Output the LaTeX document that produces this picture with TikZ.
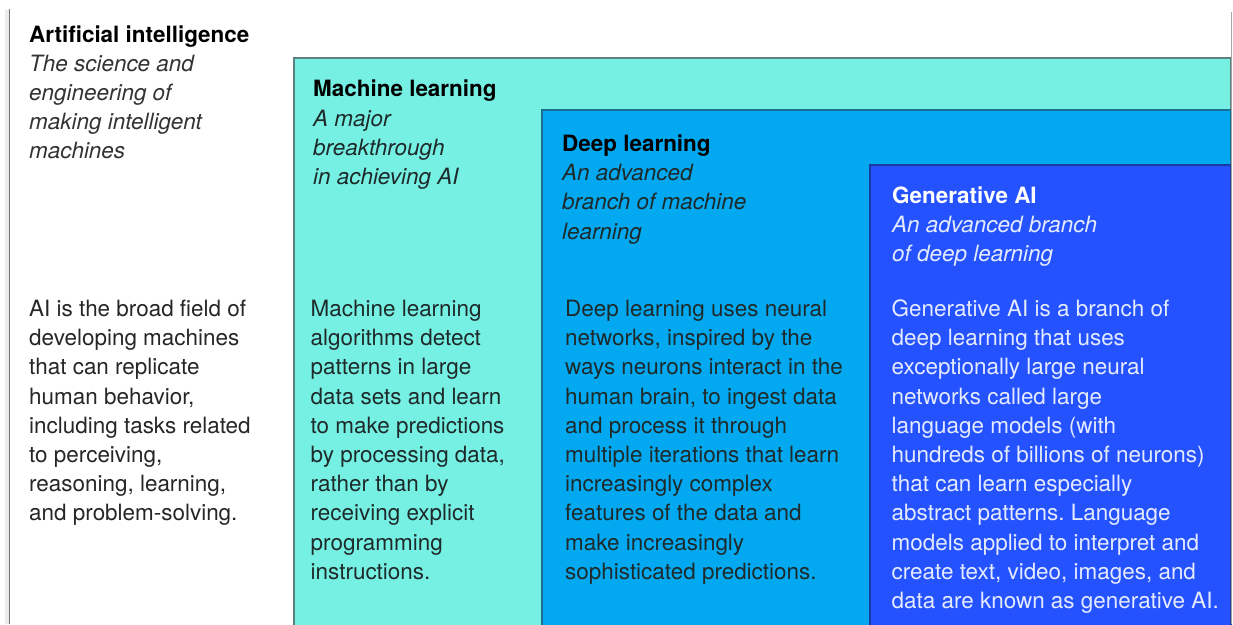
\documentclass[tikz,border=0pt]{standalone}
\usepackage{fontspec}
\setmainfont{TeX Gyre Heros}
\frenchspacing
\definecolor{mlfill}{HTML}{77F0E4}
\definecolor{dlfill}{HTML}{02A9F1}
\definecolor{gafill}{HTML}{2552FF}
\definecolor{mledge}{HTML}{5E7F7E}
\definecolor{dledge}{HTML}{1A6E93}
\definecolor{gaedge}{HTML}{1B3A9E}
\definecolor{italgray}{HTML}{333333}
\definecolor{bodydark}{HTML}{1E2A2A}
\definecolor{galight}{HTML}{E4EAFF}
\tikzset{
  txt/.style={anchor=base west, inner sep=0pt, font=\fontsize{22.45}{29.2}\selectfont},
  layer/.style={line width=1.4pt},
}
\newcommand{\blk}[1]{\parbox[t]{360pt}{\raggedright\frenchspacing #1}}
\begin{document}
\begin{tikzpicture}[x=1pt,y=-1pt]
\useasboundingbox (0,0) rectangle (1233,624);
\fill[white] (0,0) rectangle (1233,624);
% page frame
\fill[black!8] (5,10) rectangle (9,624);
\draw[black!55, line width=1.5pt] (9.5,9) -- (9.5,624);
% layers
\draw[layer, draw=mledge, fill=mlfill] (294,58) rectangle (1231,630);
\draw[layer, draw=dledge, fill=dlfill] (542,110) rectangle (1231,630);
\draw[layer, draw=gaedge, fill=gafill] (870,165) rectangle (1231,630);
\fill[white] (1232,0) rectangle (1233,624);
\draw[black!35, line width=1.2pt] (1231.6,12) -- (1231.6,624);
% AI
\node[txt] (aihead) at (29,42) {\blk{\textbf{Artificial intelligence}\\
  \color{italgray}\itshape The science and\\ engineering of\\ making intelligent\\ machines}};
\node[txt, text=black!85] (aibody) at (29,316.5) {\blk{AI is the broad field of\\ developing machines\\ that can replicate\\ human behavior,\\ including tasks related\\ to perceiving,\\ reasoning, learning,\\ and problem-solving.}};
% ML
\node[txt] (mlhead) at (313,96.8) {\blk{\textbf{Machine learning}\\
  \color{bodydark}\itshape A major\\ breakthrough\\ in achieving AI}};
\node[txt, text=bodydark] (mlbody) at (310.5,316.5) {\blk{Machine learning\\ algorithms detect\\ patterns in large\\ data sets and learn\\ to make predictions\\ by processing data,\\ rather than by\\ receiving explicit\\ programming\\ instructions.}};
% DL
\node[txt] (dlhead) at (562,151.5) {\blk{\textbf{Deep learning}\\
  \color{bodydark}\itshape An advanced\\ branch of machine\\ learning}};
\node[txt, text=bodydark] (dlbody) at (565,316.5) {\blk{Deep learning uses neural\\ networks, inspired by the\\ ways neurons interact in the\\ human brain, to ingest data\\ and process it through\\ multiple iterations that learn\\ increasingly complex\\ features of the data and\\ make increasingly\\ sophisticated predictions.}};
% GenAI
\node[txt, text=white] (gahead) at (892,203.3) {\blk{\textbf{Generative AI}\\
  \color{galight}\itshape An advanced branch\\ of deep learning}};
\node[txt, text=galight] (gabody) at (891.5,316.5) {\blk{Generative AI is a branch of\\ deep learning that uses\\ exceptionally large neural\\ networks called large\\ language models (with\\ hundreds of billions of neurons)\\ that can learn especially\\ abstract patterns. Language\\ models applied to interpret and\\ create text, video, images, and\\ data are known as generative AI.}};
\end{tikzpicture}
\end{document}
